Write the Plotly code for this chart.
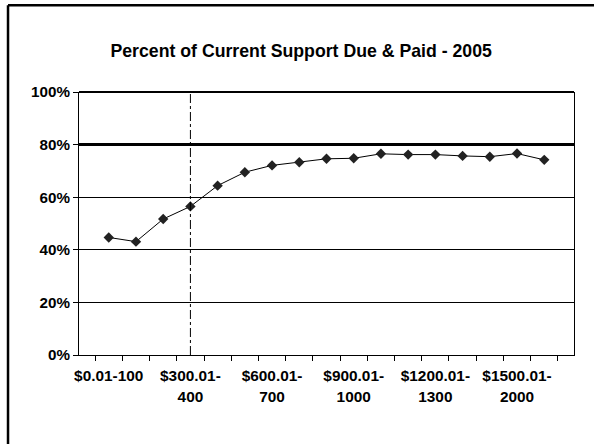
import plotly.graph_objects as go

categories = ["$0.01-100", "$100.01-200", "$200.01-300", "$300.01-400", "$400.01-500",
              "$500.01-600", "$600.01-700", "$700.01-800", "$800.01-900", "$900.01-1000",
              "$1000.01-1100", "$1100.01-1200", "$1200.01-1300", "$1300.01-1400",
              "$1400.01-1500", "$1500.01-2000", "$2000.01+"]
pct_paid = [0.447, 0.431, 0.517, 0.565, 0.644, 0.695, 0.721, 0.733, 0.746, 0.748,
            0.765, 0.762, 0.762, 0.757, 0.754, 0.766, 0.742]
tick_labels = ["$0.01-100", "", "", "$300.01-<br>400", "", "", "$600.01-<br>700", "", "",
               "$900.01-<br>1000", "", "", "$1200.01-<br>1300", "", "", "$1500.01-<br>2000", ""]
y_ticks = [0, 0.2, 0.4, 0.6, 0.8, 1.0]
target_value = 0.8
marked_category = "$300.01-400"
title_text = "Percent of Current Support Due & Paid - 2005"

FONT = "Liberation Sans, Arial, sans-serif"

fig = go.Figure()
fig.add_trace(go.Scatter(
    x=categories, y=pct_paid, mode="lines+markers",
    line=dict(color="black", width=1),
    marker=dict(symbol="diamond", size=8, color="#222222"),
    showlegend=False,
))

shapes = [
    # target line
    dict(type="line", xref="paper", yref="y", x0=0, x1=1, y0=target_value, y1=target_value,
         line=dict(color="black", width=3)),
    # top border of plot area
    dict(type="line", xref="paper", yref="paper", x0=0, x1=1, y0=1, y1=1,
         line=dict(color="black", width=2)),
    # vertical marker line
    dict(type="line", xref="x", yref="paper", x0=marked_category, x1=marked_category, y0=0, y1=1,
         line=dict(color="black", width=1, dash="dashdot")),
    # outer frame (left and top)
    dict(type="line", xref="paper", yref="paper", x0=-0.1434, x1=-0.1434, y0=-0.5, y1=1.33,
         line=dict(color="black", width=2.5)),
    dict(type="line", xref="paper", yref="paper", x0=-0.1434, x1=1.2, y0=1.33, y1=1.33,
         line=dict(color="black", width=2.5)),
]

fig.update_layout(
    width=594, height=444,
    margin=dict(l=79, r=20, t=92, b=89),
    paper_bgcolor="white", plot_bgcolor="white",
    font=dict(family=FONT, color="black"),
    title=dict(text="<b>" + title_text + "</b>", x=0.507, xanchor="center",
               y=1 - 51 / 444, yanchor="middle", yref="container",
               font=dict(size=17.7, family=FONT, color="black")),
    shapes=shapes,
)
fig.update_xaxes(
    type="category", categoryorder="array", categoryarray=categories,
    tickmode="array", tickvals=categories,
    ticktext=["<b>" + t.replace("<br>", "</b><br><b>") + "</b>" if t else "" for t in tick_labels],
    tickson="boundaries", ticks="outside", ticklen=5, tickcolor="black", tickwidth=1,
    showline=True, linecolor="black", linewidth=1,
    showgrid=False, zeroline=False,
    tickfont=dict(size=15.4, family=FONT, color="black"),
    tickangle=0, ticklabelstandoff=7,
)
fig.update_yaxes(
    range=[0, 1], tickmode="array", tickvals=y_ticks,
    ticktext=["<b>{:.0%}</b>".format(v) for v in y_ticks],
    ticks="outside", ticklen=5, tickcolor="black", tickwidth=1,
    showline=True, linecolor="black", linewidth=1, mirror=True,
    showgrid=True, gridcolor="black", gridwidth=1, zeroline=False,
    tickfont=dict(size=15.2, family=FONT, color="black"),
)

fig.write_html(
    "out.html",
    config={"displayModeBar": False},
    post_script=("document.body.style.margin='0';document.body.style.overflow='hidden';"
                 "document.documentElement.style.overflow='hidden';"),
)
